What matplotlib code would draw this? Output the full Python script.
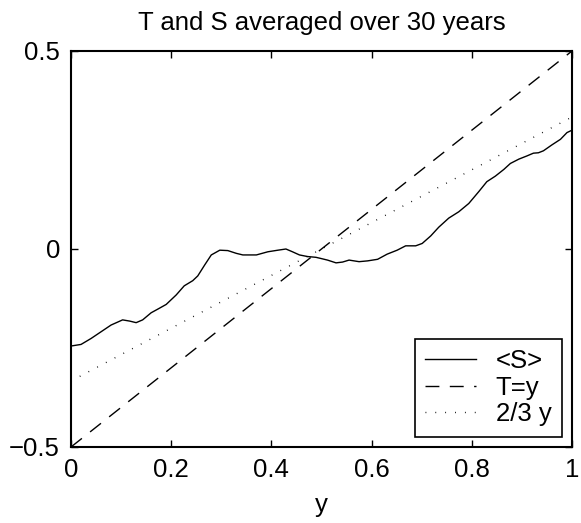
import numpy as np
import matplotlib
matplotlib.use("Agg")
import matplotlib.pyplot as plt

# Averaged salinity profile <S> versus y
s_y = [0.000, 0.020, 0.040, 0.060, 0.080, 0.103, 0.117, 0.130, 0.143, 0.160,
       0.173, 0.190, 0.210, 0.226, 0.243, 0.253, 0.267, 0.280, 0.297, 0.313,
       0.330, 0.343, 0.370, 0.393, 0.413, 0.429, 0.442, 0.456, 0.472, 0.489,
       0.499, 0.512, 0.529, 0.542, 0.555, 0.575, 0.592, 0.612, 0.631, 0.651,
       0.668, 0.688, 0.701, 0.718, 0.734, 0.754, 0.774, 0.794, 0.814, 0.830,
       0.847, 0.864, 0.877, 0.894, 0.910, 0.923, 0.933, 0.943, 0.960, 0.977,
       0.990, 1.000]
s_val = [-0.245, -0.241, -0.226, -0.209, -0.192, -0.179, -0.182, -0.186, -0.179, -0.161,
         -0.152, -0.140, -0.116, -0.093, -0.080, -0.068, -0.040, -0.015, -0.003, -0.004,
         -0.011, -0.015, -0.015, -0.007, -0.003, 0.000, -0.007, -0.015, -0.019, -0.021,
         -0.024, -0.028, -0.035, -0.033, -0.028, -0.032, -0.030, -0.026, -0.013, -0.003,
         0.008, 0.008, 0.014, 0.033, 0.055, 0.078, 0.094, 0.115, 0.145, 0.170,
         0.184, 0.201, 0.216, 0.227, 0.235, 0.242, 0.243, 0.248, 0.263, 0.277,
         0.294, 0.300]

# Reference lines T = y (shifted) and 2/3 y
ref_y = [0.0, 1.0]
t_val = [-0.5, 0.5]
two_thirds_val = [-1/3, 1/3]

series_labels = ["<S>", "T=y", "2/3 y"]
x_ticks = [0, 0.2, 0.4, 0.6, 0.8, 1]
x_tick_labels = ["0", "0.2", "0.4", "0.6", "0.8", "1"]
y_ticks = [-0.5, 0, 0.5]
y_tick_labels = ["\u22120.5", "0", "0.5"]

plt.rcParams["font.family"] = ["Liberation Sans", "DejaVu Sans"]
fs = 18.5

fig = plt.figure(figsize=(5.81, 5.23), dpi=100)
ax = fig.add_axes([71/581, 1 - 447/523, 501/581, 396/523])

ax.plot(s_y, s_val, color="black", lw=1.0, label=series_labels[0])
ax.plot(ref_y, t_val, color="black", lw=1.0, linestyle=(0, (10, 7.5)),
        label=series_labels[1])
ax.plot(ref_y, two_thirds_val, color="black", lw=1.0, linestyle=(0, (0.6, 6.5)),
        label=series_labels[2])

ax.set_xlim(0, 1)
ax.set_ylim(-0.5, 0.5)
ax.set_xticks(x_ticks)
ax.set_xticklabels(x_tick_labels)
ax.set_yticks(y_ticks)
ax.set_yticklabels(y_tick_labels)
ax.tick_params(direction="in", length=5, width=1, top=True, right=True,
               labelsize=fs, pad=8)
for sp in ax.spines.values():
    sp.set_linewidth(1.5)

ax.set_xlabel("y", fontsize=fs, labelpad=8)
ax.set_title("T and S averaged over 30 years", fontsize=fs, pad=15)

leg = ax.legend(loc="lower right", fontsize=fs, frameon=True, fancybox=False,
                edgecolor="black", framealpha=1, handlelength=2.0,
                handletextpad=0.75, borderpad=0.4, labelspacing=0.1,
                borderaxespad=0.4)
leg.get_frame().set_linewidth(1.2)

fig.savefig("out.png", dpi=100)
